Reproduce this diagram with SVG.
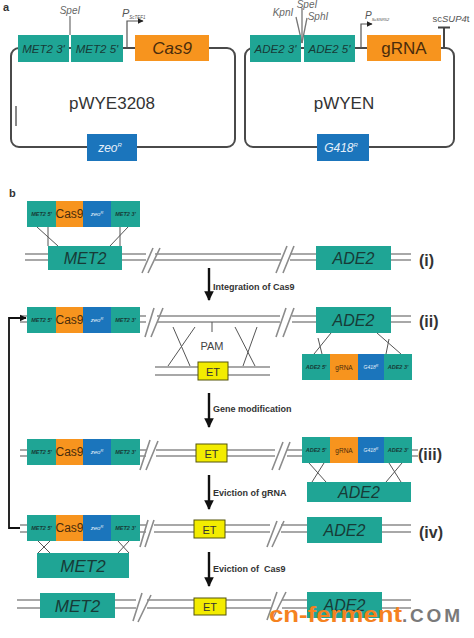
<svg xmlns="http://www.w3.org/2000/svg" width="474" height="638" viewBox="0 0 474 638">
<style>
text{font-family:"Liberation Sans",Arial,sans-serif}
.teal{fill:#1fa595}
.org{fill:#f7941e}
.blu{fill:#1b75bc}
.yel{fill:#f3ec00;stroke:#55550a;stroke-width:1}
.plas{fill:none;stroke:#4a4a4a;stroke-width:2}
.chr{fill:none;stroke:#8c8c8c;stroke-width:1.6}
.cut{fill:none;stroke:#777;stroke-width:1.3}
.xl{fill:none;stroke:#555;stroke-width:1}
.thin{fill:none;stroke:#555;stroke-width:1.2}
.arr{fill:none;stroke:#111;stroke-width:2.4}
.lab{font-size:9px;font-weight:bold;fill:#333}
.num{font-size:16px;font-weight:bold;fill:#333}
.gi{font-style:italic;fill:#173b37;text-anchor:middle}
.wi{font-style:italic;fill:#e6f0fa;text-anchor:middle}
.ci{fill:#4a2c0c;text-anchor:middle}
.sm{font-size:5.5px;font-weight:bold}
.site{font-size:10px;font-style:italic;fill:#666;text-anchor:middle}
</style>
<defs>
<marker id="ah" viewBox="0 0 10 10" refX="9" refY="5" markerWidth="4" markerHeight="4" orient="auto" markerUnits="strokeWidth"><path d="M0,0L10,5L0,10z" fill="#111"/></marker>
<marker id="ahs" viewBox="0 0 10 10" refX="9" refY="5" markerWidth="5" markerHeight="5" orient="auto" markerUnits="strokeWidth"><path d="M0,0L10,5L0,10z" fill="#222"/></marker>
<g id="metCas">
<rect class="teal" x="0" y="0" width="29" height="26"/>
<rect class="org" x="29" y="0" width="27" height="26"/>
<rect class="blu" x="56" y="0" width="28" height="26"/>
<rect class="teal" x="84" y="0" width="29" height="26"/>
<text class="gi sm" x="14.5" y="15">MET2 5'</text>
<text class="ci" x="42.5" y="17" font-size="12">Cas9</text>
<text class="wi" x="70" y="15" font-size="6">zeo<tspan font-size="4" dy="-2">R</tspan></text>
<text class="gi sm" x="98.5" y="15">MET2 3'</text>
</g>
<g id="adeCas">
<rect class="teal" x="0" y="0" width="28" height="26"/>
<rect class="org" x="28" y="0" width="28" height="26"/>
<rect class="blu" x="56" y="0" width="26" height="26"/>
<rect class="teal" x="82" y="0" width="28" height="26"/>
<text class="gi sm" x="14" y="15">ADE2 5'</text>
<text class="ci" x="42" y="15.5" font-size="6.5">gRNA</text>
<text class="wi" x="69" y="15" font-size="5">G418<tspan font-size="3.5" dy="-2">R</tspan></text>
<text class="gi sm" x="96" y="15">ADE2 3'</text>
</g>
</defs>
<rect width="474" height="638" fill="#fff"/>

<!-- panel a -->
<text x="3" y="11" font-size="11" font-weight="bold" fill="#333">a</text>
<g id="pWYE3208">
<rect class="plas" x="11" y="48" width="224" height="99" rx="8"/>
<line class="cut" x1="70" y1="16" x2="70" y2="35"/>
<text class="site" x="70" y="14">SpeI</text>
<rect class="teal" x="18" y="35" width="51" height="27"/>
<rect class="teal" x="71" y="35" width="52" height="27"/>
<text class="gi" x="43.5" y="53" font-size="11.5">MET2 3'</text>
<text class="gi" x="97" y="53" font-size="11.5">MET2 5'</text>
<path class="thin" d="M127,48V21H143" marker-end="url(#ahs)"/>
<text x="122" y="17" font-size="11" font-style="italic" fill="#555">P<tspan font-size="4.5" dy="2">ScTEF1</tspan></text>
<rect class="org" x="135" y="35" width="74" height="26"/>
<text class="ci" x="172" y="54" font-size="17" font-style="italic">Cas9</text>
<text x="112" y="109" font-size="17" fill="#333" text-anchor="middle">pWYE3208</text>
<rect class="blu" x="87" y="134" width="50" height="27"/>
<text class="wi" x="110" y="152" font-size="12">zeo<tspan font-size="6" dy="-5">R</tspan></text>
<line x1="16" y1="106" x2="16" y2="126" stroke="#111" stroke-width="1"/>
</g>
<g id="pWYEN">
<rect class="plas" x="245" y="48" width="209" height="99" rx="8"/>
<line class="cut" x1="296" y1="17" x2="302" y2="43"/>
<line class="cut" x1="302" y1="8" x2="302" y2="43"/>
<line class="cut" x1="307" y1="18" x2="302" y2="43"/>
<text class="site" x="283" y="16" font-size="9">KpnI</text>
<text class="site" x="307" y="8" font-size="8.5">SpeI</text>
<text class="site" x="318" y="20" font-size="9">SphI</text>
<rect class="teal" x="250" y="35" width="51" height="27"/>
<rect class="teal" x="304" y="35" width="51" height="27"/>
<text class="gi" x="275.5" y="53" font-size="11.5">ADE2 3'</text>
<text class="gi" x="329.5" y="53" font-size="11.5">ADE2 5'</text>
<path class="thin" d="M361,48V24H372" marker-end="url(#ahs)"/>
<text x="365" y="19" font-size="10" font-style="italic" fill="#555">P<tspan font-size="4" dy="2">ScSNR52</tspan></text>
<rect class="org" x="367" y="35" width="74" height="26"/>
<text class="ci" x="404" y="54" font-size="17">gRNA</text>
<path d="M444,48V28M438,27.5H450" fill="none" stroke="#444" stroke-width="2"/>
<text x="451" y="22" font-size="9.5" fill="#555" text-anchor="middle">sc<tspan font-style="italic">SUP4</tspan>t</text>
<text x="344" y="109" font-size="17" fill="#333" text-anchor="middle">pWYEN</text>
<rect class="blu" x="317" y="134" width="52" height="27"/>
<text class="wi" x="341" y="152" font-size="12">G418<tspan font-size="6" dy="-5">R</tspan></text>
</g>

<!-- panel b -->
<text x="9" y="197" font-size="11" font-weight="bold" fill="#333">b</text>

<g id="connectors">
<path class="chr" d="M25,254H146M155,254H281M290,254H411M25,260H146M155,260H281M290,260H411"/>
<path class="chr" d="M20,316H146M157,316H280M292,316H411M20,322H146M157,322H280M292,322H411"/>
<path class="chr" d="M155,367H270M155,375H270"/>
<path class="chr" d="M20,450H146M156,450H275M287,450H302M412,450H418M20,456H146M156,456H275M287,456H302M412,456H418"/>
<path class="chr" d="M20,525H146M154,525H270M281,525H411M20,532H146M154,532H270M281,532H411"/>
<path class="chr" d="M17,600H136M147,600H271M282,600H411M17,608H136M147,608H271M282,608H411"/>
<path class="chr" d="M142,273L153,248M148,273L160,248M276,273L287,246M283,273L294,246"/>
<path class="chr" d="M145,337L154,308M151,337L163,308M276,337L286,308M283,337L294,308"/>
<path class="chr" d="M140,470L150,440M146,470L158,441M272,470L283,442M279,470L290,442"/>
<path class="chr" d="M140,547L148,520M145,547L154,520M267,547L277,521M272,547L284,521"/>
<path class="chr" d="M133,621L142,593M138,622L151,595M267,620L277,592M272,620L286,592"/>
<path class="xl" d="M37,227L58,246M48,227L48,246M128,227L110,246M120,227L120,246"/>
<path class="xl" d="M173,327L190,366M195,327L168,366M257,327L243,366M235,327L255,366M212,322V332"/>
<path class="xl" d="M331,333L314,354M318,338L322,354M377,333L401,354M389,339L386,354"/>
<path class="xl" d="M309,463L326,482M324,463L312,482M386,482L402,463M389,463L401,482"/>
<path class="xl" d="M38,541L50,553M50,541L38,553M118,541L129,553M129,541L118,553"/>
<line class="arr" x1="209" y1="268" x2="209" y2="300" marker-end="url(#ah)"/>
<line class="arr" x1="209" y1="393" x2="209" y2="427" marker-end="url(#ah)"/>
<line class="arr" x1="209" y1="475" x2="209" y2="509" marker-end="url(#ah)"/>
<line class="arr" x1="209" y1="552" x2="209" y2="586" marker-end="url(#ah)"/>
<path d="M20,528H9V318H26" fill="none" stroke="#111" stroke-width="1.8" marker-end="url(#ah)"/>
</g>

<text class="lab" x="213" y="290">Integration of Cas9</text>
<text class="lab" x="213" y="412">Gene modification</text>
<text class="lab" x="213" y="496">Eviction of gRNA</text>
<text class="lab" x="213" y="572" xml:space="preserve">Eviction of  Cas9</text>

<g id="cas_i"><use href="#metCas" x="27" y="201"/></g>
<g id="met2_i"><rect class="teal" x="48" y="246" width="74" height="24"/><text class="gi" x="85" y="264" font-size="16">MET2</text></g>
<g id="ade2_i"><rect class="teal" x="316" y="246" width="75" height="24"/><text class="gi" x="353.5" y="264" font-size="16">ADE2</text></g>
<text class="num" x="419" y="266">(i)</text>

<g id="cas_ii"><use href="#metCas" x="27" y="307"/></g>
<text x="212" y="350" font-size="11" fill="#444" text-anchor="middle">PAM</text>
<g id="et_ii"><rect class="yel" x="198" y="362" width="30" height="18"/><text x="213" y="375.5" font-size="11" fill="#333" text-anchor="middle">ET</text></g>
<g id="ade2_ii"><rect class="teal" x="316" y="307" width="75" height="26"/><text class="gi" x="353.5" y="326" font-size="16">ADE2</text></g>
<g id="gcas_ii"><use href="#adeCas" x="302" y="354"/></g>
<text class="num" x="419" y="327">(ii)</text>

<g id="cas_iii"><use href="#metCas" x="27" y="439"/></g>
<g id="et_iii"><rect class="yel" x="196" y="444" width="31" height="18"/><text x="211.5" y="457.5" font-size="11" fill="#333" text-anchor="middle">ET</text></g>
<g id="gcas_iii"><use href="#adeCas" x="302" y="437"/></g>
<g id="ade2_iii"><rect class="teal" x="307" y="482" width="104" height="20"/><text class="gi" x="359" y="498" font-size="16">ADE2</text></g>
<text class="num" x="418" y="460">(iii)</text>

<g id="cas_iv"><use href="#metCas" x="27" y="515"/></g>
<g id="et_iv"><rect class="yel" x="194" y="520" width="31" height="18"/><text x="209.5" y="533.5" font-size="11" fill="#333" text-anchor="middle">ET</text></g>
<g id="ade2_iv"><rect class="teal" x="307" y="517" width="75" height="26"/><text class="gi" x="344.5" y="536" font-size="16">ADE2</text></g>
<g id="met2_iv"><rect class="teal" x="37" y="553" width="92" height="25"/><text class="gi" x="83" y="572" font-size="17">MET2</text></g>
<text class="num" x="419" y="538">(iv)</text>

<g id="met2_v"><rect class="teal" x="40" y="593" width="75" height="25"/><text class="gi" x="77.5" y="612" font-size="17">MET2</text></g>
<g id="et_v"><rect class="yel" x="194" y="598" width="32" height="17"/><text x="210" y="611" font-size="11" fill="#333" text-anchor="middle">ET</text></g>
<g id="ade2_v"><rect class="teal" x="307" y="592" width="75" height="26"/><text class="gi" x="344.5" y="611" font-size="16">ADE2</text></g>

<text x="269" y="622" font-size="22" font-weight="bold" fill="#f58220" textLength="133" lengthAdjust="spacingAndGlyphs">cn-ferment</text>
<text x="402" y="622" font-size="19" font-weight="bold" fill="#7a7a7a" textLength="58" lengthAdjust="spacing">.COM</text>
</svg>
